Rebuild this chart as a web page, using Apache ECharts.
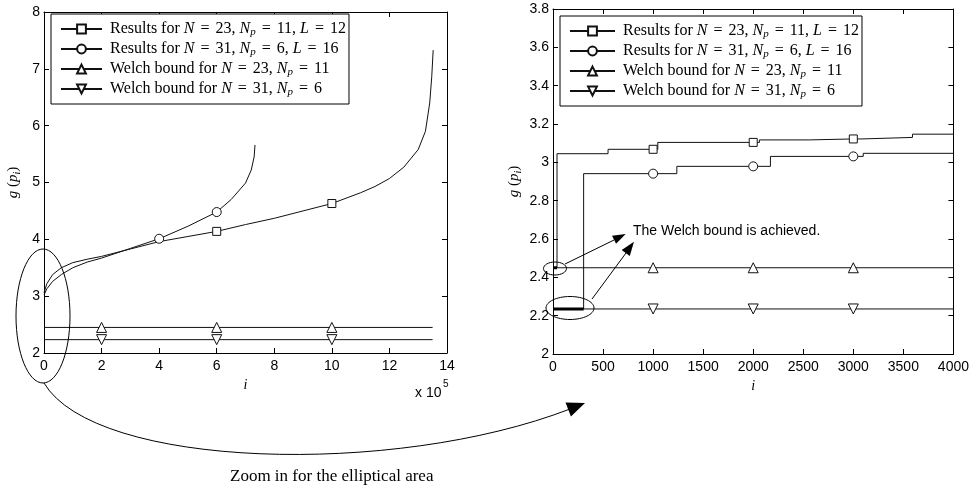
<!DOCTYPE html>
<html><head><meta charset="utf-8">
<script src="https://cdn.jsdelivr.net/npm/echarts@6/dist/echarts.min.js"></script>
<style>html,body{margin:0;padding:0;background:#fff}#c{width:972px;height:488px}</style>
</head><body><div id="c"></div>
<script>
// ---------- Left panel (i in units of 10^5) ----------
const leftN23X = [0, 0.1, 0.3, 0.6, 1.0, 1.5, 2.0, 3.0, 4.0, 5.0, 6.0, 7.0, 8.0, 9.0, 10.0, 11.0, 11.5, 12.0, 12.5, 13.0, 13.25, 13.4, 13.47, 13.52];
const leftN23Y = [3.06, 3.22, 3.38, 3.5, 3.59, 3.65, 3.7, 3.83, 3.96, 4.05, 4.14, 4.26, 4.37, 4.5, 4.63, 4.82, 4.93, 5.07, 5.27, 5.58, 5.9, 6.4, 6.86, 7.33];
const leftN23MarkX = [6, 10];
const leftN31X = [0, 0.1, 0.3, 0.6, 1.0, 1.5, 2.0, 3.0, 4.0, 5.0, 6.0, 6.5, 7.0, 7.2, 7.3, 7.33];
const leftN31Y = [3.02, 3.13, 3.26, 3.38, 3.5, 3.6, 3.67, 3.84, 4.01, 4.23, 4.48, 4.7, 4.99, 5.22, 5.45, 5.66];
const leftN31MarkX = [4, 6];
const leftWelchX = [0, 2, 6, 10, 13.5];
const leftWelchMarkX = [2, 6, 10];
const welch23 = 2.45;
const welch31 = 2.235;
const leftXTicks = {min: 0, max: 14, interval: 2};
const leftYTicks = {min: 2, max: 8, interval: 1};

// ---------- Right panel (zoom) ----------
const rightN23X = [0, 40, 550, 1000, 1047, 2000, 2062, 2560, 3000, 3086, 3591, 4000];
const rightN23Y = [2.45, 3.045, 3.068, 3.068, 3.104, 3.104, 3.117, 3.122, 3.122, 3.13, 3.147, 3.147];
const rightN31X = [0, 306, 1000, 1237, 2000, 2172, 3000, 3099, 4000];
const rightN31Y = [2.235, 2.941, 2.941, 2.979, 2.979, 3.031, 3.031, 3.047, 3.047];
const rightMarkX = [1000, 2000, 3000];
const rightWelchX = [0, 1000, 2000, 3000, 4000];
const rightXTicks = {min: 0, max: 4000, interval: 500};
const rightYTicks = {min: 2, max: 3.8, interval: 0.2};

const legendLabels = {
  r23: 'Results for {i|N}{e|=}23, {i|N}{s|p}{e|=}11, {i|L}{e|=}12',
  r31: 'Results for {i|N}{e|=}31, {i|N}{s|p}{e|=}6, {i|L}{e|=}16',
  w23: 'Welch bound for {i|N}{e|=}23, {i|N}{s|p}{e|=}11',
  w31: 'Welch bound for {i|N}{e|=}31, {i|N}{s|p}{e|=}6'
};

const INK = '#111';
const downTri = 'path://M0,0 L10,0 L5,8.66 Z';

function build(xs, ys, marks) {
  return xs.map((x, k) => marks.includes(x) ? {value: [x, ys[k]]} : {value: [x, ys[k]], symbol: 'none'});
}
function constBuild(xs, v, marks) {
  return build(xs, xs.map(() => v), marks);
}
function lineSeries(name, xi, yi, data, symbol, size, step) {
  return {
    type: 'line', name, xAxisIndex: xi, yAxisIndex: yi, data,
    symbol, symbolSize: size, showAllSymbol: true, step: step || false,
    lineStyle: {color: INK, width: 1},
    itemStyle: {color: '#fff', borderColor: INK, borderWidth: 1},
    emphasis: {disabled: true}, silent: true, clip: false
  };
}

const tickFont = {fontFamily: 'Liberation Sans, Arial, sans-serif', fontSize: 14, color: '#000'};
const FS = 16;
const mathRich = {
  i: {fontFamily: 'Liberation Serif', fontStyle: 'italic', fontSize: FS, color: '#000', lineHeight: 18, verticalAlign: 'middle'},
  n: {fontFamily: 'Liberation Serif', fontSize: FS, color: '#000', lineHeight: 18, verticalAlign: 'middle'},
  e: {fontFamily: 'Liberation Serif', fontSize: FS, color: '#000', lineHeight: 18, verticalAlign: 'middle', padding: [0, 6, 0, 6]},
  s: {fontFamily: 'Liberation Serif', fontStyle: 'italic', fontSize: 11, color: '#000', lineHeight: 10, verticalAlign: 'bottom'}
};
const nameRich = {
  i: {fontFamily: 'Liberation Serif', fontStyle: 'italic', fontSize: 15, color: '#000', lineHeight: 18, verticalAlign: 'middle'},
  n: {fontFamily: 'Liberation Serif', fontSize: 15, color: '#000', lineHeight: 18, verticalAlign: 'middle'},
  s: {fontFamily: 'Liberation Serif', fontStyle: 'italic', fontSize: 10, color: '#000', lineHeight: 10, verticalAlign: 'bottom'}
};

function xAxes(grid, t, name) {
  return [
    {type: 'value', gridIndex: grid, position: 'bottom', min: t.min, max: t.max, interval: t.interval,
     axisLine: {onZero: false, lineStyle: {color: '#000', width: 1}},
     axisTick: {inside: true, length: 5, lineStyle: {color: '#000'}},
     axisLabel: Object.assign({margin: 6, formatter: v => String(v)}, tickFont), splitLine: {show: false},
     name: name, nameLocation: 'middle', nameGap: 24,
     nameTextStyle: {fontFamily: 'Liberation Serif', fontStyle: 'italic', fontSize: 14, color: '#000'}},
    {type: 'value', gridIndex: grid, position: 'top', min: t.min, max: t.max, interval: t.interval,
     axisLine: {onZero: false, lineStyle: {color: '#000', width: 1}},
     axisTick: {inside: true, length: 5, lineStyle: {color: '#000'}},
     axisLabel: {show: false}, splitLine: {show: false}}
  ];
}
function yAxes(grid, t, gap) {
  return [
    {type: 'value', gridIndex: grid, position: 'left', min: t.min, max: t.max, interval: t.interval,
     axisLine: {onZero: false, lineStyle: {color: '#000', width: 1}},
     axisTick: {inside: true, length: 5, lineStyle: {color: '#000'}},
     axisLabel: Object.assign({margin: 4}, tickFont), splitLine: {show: false},
     name: '{i|g}{n| (}{i|p}{s|i}{n|)}', nameLocation: 'middle', nameGap: gap,
     nameTextStyle: {rich: nameRich}},
    {type: 'value', gridIndex: grid, position: 'right', min: t.min, max: t.max, interval: t.interval,
     axisLine: {onZero: false, lineStyle: {color: '#000', width: 1}},
     axisTick: {inside: true, length: 5, lineStyle: {color: '#000'}},
     axisLabel: {show: false}, splitLine: {show: false}}
  ];
}
function legend(left, top, iw) {
  return {
    left, top, orient: 'vertical', itemWidth: iw, itemHeight: 11, itemGap: 2,
    padding: [6, 3, 6, 9], borderColor: '#000', borderWidth: 1, backgroundColor: '#fff',
    selectedMode: false, data: ['r23', 'r31', 'w23', 'w31'],
    formatter: n => legendLabels[n],
    textStyle: {fontFamily: 'Liberation Serif', fontSize: FS, color: '#000', lineHeight: 18, padding: [0, 0, 0, 3], rich: mathRich}
  };
}

const series = [
  lineSeries('w23', 0, 0, constBuild(leftWelchX, welch23, leftWelchMarkX), 'triangle', 10),
  lineSeries('w31', 0, 0, constBuild(leftWelchX, welch31, leftWelchMarkX), downTri, 10),
  lineSeries('r23', 0, 0, build(leftN23X, leftN23Y, leftN23MarkX), 'rect', 8),
  lineSeries('r31', 0, 0, build(leftN31X, leftN31Y, leftN31MarkX), 'circle', 9),
  lineSeries('w23', 2, 2, constBuild(rightWelchX, welch23, rightMarkX), 'triangle', 10),
  lineSeries('w31', 2, 2, constBuild(rightWelchX, welch31, rightMarkX), downTri, 10),
  lineSeries('r23', 2, 2, build(rightN23X, rightN23Y, rightMarkX), 'rect', 8, 'end'),
  lineSeries('r31', 2, 2, build(rightN31X, rightN31Y, rightMarkX), 'circle', 9, 'end'),
  // segments where the Welch bound is achieved (first step of each result)
  {type: 'line', name: 'achieved23', xAxisIndex: 2, yAxisIndex: 2, symbol: 'none', silent: true,
   data: [[rightN23X[0], rightN23Y[0]], [rightN23X[1], rightN23Y[0]]], lineStyle: {color: '#000', width: 3}},
  {type: 'line', name: 'achieved31', xAxisIndex: 2, yAxisIndex: 2, symbol: 'none', silent: true,
   data: [[rightN31X[0], rightN31Y[0]], [rightN31X[1], rightN31Y[0]]], lineStyle: {color: '#000', width: 3}}
];

function arrowHead(tx, ty, dx, dy, len, w) {
  const n = Math.hypot(dx, dy); dx /= n; dy /= n;
  const bx = tx - dx * len, by = ty - dy * len, px = -dy, py = dx;
  return {type: 'polygon', silent: true, z: 100,
    shape: {points: [[tx, ty], [bx + px * w / 2, by + py * w / 2], [bx - px * w / 2, by - py * w / 2]]},
    style: {fill: '#000'}};
}
const stroke = {stroke: '#000', lineWidth: 1, fill: null};

const graphic = [
  {type: 'ellipse', shape: {cx: 43, cy: 316, rx: 27, ry: 67}, style: stroke, silent: true, z: 100},
  {type: 'bezierCurve', shape: {x1: 44, y1: 383, cpx1: 95, cpy1: 469, cpx2: 394, cpy2: 477, x2: 570, y2: 409}, style: stroke, silent: true, z: 100},
  arrowHead(585, 403, 0.93, -0.36, 18, 15),
  {type: 'text', x: 230, y: 477, style: {text: 'Zoom in for the elliptical area', font: '17px "Liberation Serif"', fill: '#000', verticalAlign: 'middle'}, silent: true, z: 100},
  {type: 'text', x: 415, y: 393, style: {text: 'x 10', font: '14px "Liberation Sans"', fill: '#000', verticalAlign: 'middle'}, silent: true, z: 100},
  {type: 'text', x: 443, y: 384, style: {text: '5', font: '10px "Liberation Sans"', fill: '#000', verticalAlign: 'middle'}, silent: true, z: 100},
  {type: 'ellipse', shape: {cx: 555, cy: 268.5, rx: 11.5, ry: 6.5}, style: stroke, silent: true, z: 100},
  {type: 'ellipse', shape: {cx: 570, cy: 308, rx: 24, ry: 11.5}, style: stroke, silent: true, z: 100},
  {type: 'line', shape: {x1: 565, y1: 264, x2: 614, y2: 240}, style: stroke, silent: true, z: 100},
  arrowHead(625.7, 234, 60.7, -30, 13, 9),
  {type: 'line', shape: {x1: 592, y1: 299, x2: 626, y2: 253}, style: stroke, silent: true, z: 100},
  arrowHead(634, 241.7, 42, -57.3, 14, 10),
  {type: 'text', x: 633, y: 231, style: {text: 'The Welch bound is achieved.', font: '14px "Liberation Sans"', fill: '#000', verticalAlign: 'middle'}, silent: true, z: 100}
];

const chart = echarts.init(document.getElementById('c'), null, {renderer: 'canvas'});
chart.setOption({
  animation: false,
  backgroundColor: '#fff',
  grid: [
    {left: 44, top: 12, width: 403, height: 341},
    {left: 553, top: 9, width: 401, height: 345}
  ],
  xAxis: [...xAxes(0, leftXTicks, 'i'), ...xAxes(1, rightXTicks, 'i')],
  yAxis: [...yAxes(0, leftYTicks, 22), ...yAxes(1, rightYTicks, 30)],
  legend: [legend(51, 14, 41), legend(560, 16, 45)],
  series,
  graphic
});
</script></body></html>
